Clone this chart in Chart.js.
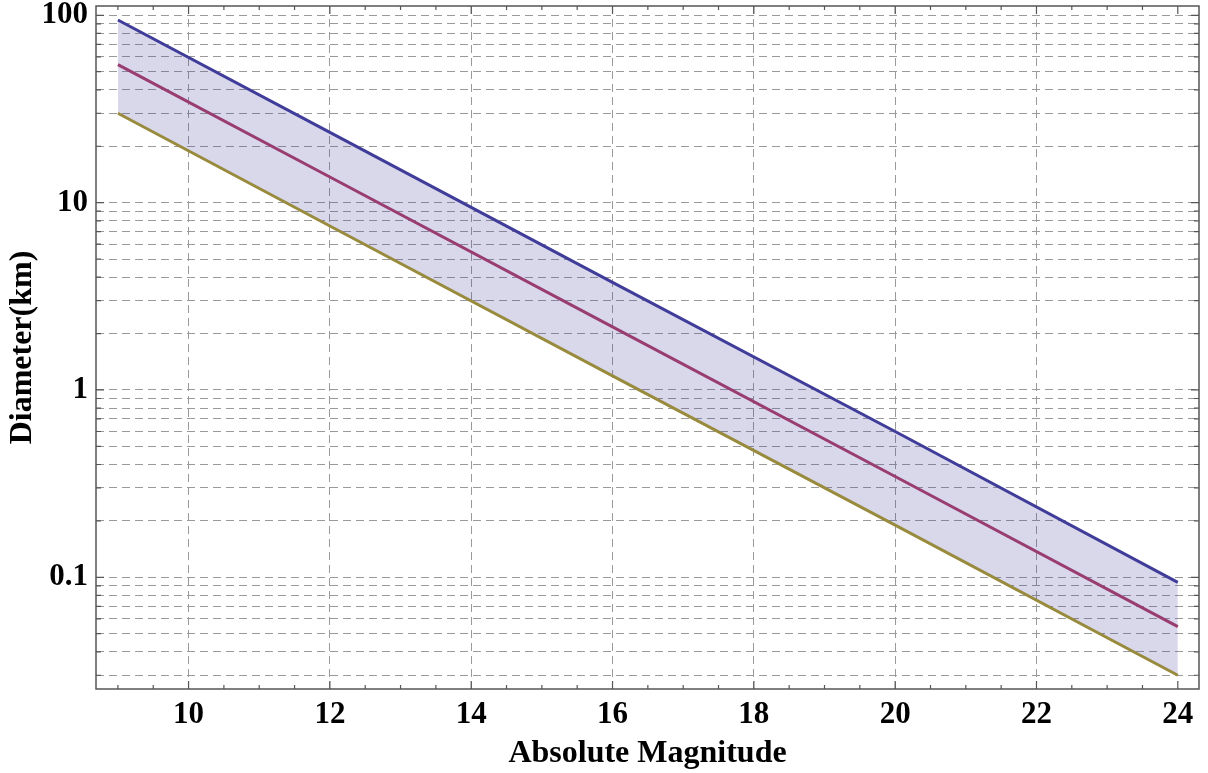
<!DOCTYPE html>
<html lang="en">
<head>
    <meta charset="UTF-8">
    <title>Diameter vs Absolute Magnitude</title>
    <style>
        body {
            margin: 0;
            background: #ffffff;
        }
        #wrap {
            width: 1208px;
            height: 773px;
        }
    </style>
    <script src="https://cdn.jsdelivr.net/npm/chart.js"></script>
</head>
<body>
    <div id="wrap"><canvas id="chart" width="1208" height="773"></canvas></div>

    <script>
        // values (absolute magnitude H, diameter in km)
        const magnitudes = [9, 12, 16, 20, 24];
        const upperDiam = [94.4, 23.7, 3.75, 0.6, 0.094];
        const middleDiam = [54.5, 13.7, 2.17, 0.345, 0.0545];
        const lowerDiam = [30, 7.5, 1.19, 0.19, 0.030];

        const xTicks = [10, 12, 14, 16, 18, 20, 22, 24];
        const yLabels = [0.1, 1, 10, 100];
        const yGrid = [0.03, 0.04, 0.05, 0.06, 0.07, 0.08, 0.09,
                       0.1, 0.2, 0.3, 0.4, 0.5, 0.6, 0.7, 0.8, 0.9,
                       1, 2, 3, 4, 5, 6, 7, 8, 9,
                       10, 20, 30, 40, 50, 60, 70, 80, 90, 100];

        const FONT = '"Liberation Serif", "Times New Roman", serif';

        function pts(ys) {
            return magnitudes.map((h, i) => ({ x: h, y: ys[i] }));
        }

        // frame with inward tick marks on all four sides
        const framePlugin = {
            id: 'frame',
            afterDraw(chart) {
                const { ctx, chartArea: a, scales } = chart;
                const xs = scales.x, ys = scales.y;
                ctx.save();
                ctx.strokeStyle = '#555';
                ctx.lineWidth = 1.5;
                ctx.strokeRect(a.left, a.top, a.right - a.left, a.bottom - a.top);

                ctx.lineWidth = 1.2;
                ctx.beginPath();
                for (let v = 9; v <= 24.01; v += 0.5) {
                    const px = xs.getPixelForValue(v);
                    const len = (Math.abs(v % 2) < 1e-6) ? 8 : 4;
                    ctx.moveTo(px, a.bottom); ctx.lineTo(px, a.bottom - len);
                    ctx.moveTo(px, a.top); ctx.lineTo(px, a.top + len);
                }
                yGrid.forEach(v => {
                    const py = ys.getPixelForValue(v);
                    const len = yLabels.includes(v) ? 8 : 5;
                    ctx.moveTo(a.left, py); ctx.lineTo(a.left + len, py);
                    ctx.moveTo(a.right, py); ctx.lineTo(a.right - len, py);
                });
                ctx.stroke();
                ctx.restore();
            }
        };

        new Chart(document.getElementById('chart'), {
            type: 'line',
            data: {
                datasets: [
                    {
                        data: pts(upperDiam),
                        borderColor: '#3f3d99',
                        backgroundColor: 'rgba(63, 61, 153, 0.2)',
                        borderWidth: 3,
                        pointRadius: 0,
                        fill: 2
                    },
                    {
                        data: pts(middleDiam),
                        borderColor: '#993d71',
                        borderWidth: 3,
                        pointRadius: 0,
                        fill: false
                    },
                    {
                        data: pts(lowerDiam),
                        borderColor: '#998b3d',
                        borderWidth: 3,
                        pointRadius: 0,
                        fill: false
                    }
                ]
            },
            options: {
                responsive: false,
                animation: false,
                layout: { padding: { top: 6, right: 9, left: 0, bottom: 0 } },
                plugins: {
                    legend: { display: false },
                    tooltip: { enabled: false },
                    filler: { drawTime: 'beforeDatasetsDraw' }
                },
                scales: {
                    x: {
                        type: 'linear',
                        min: 8.69,
                        max: 24.3,
                        afterBuildTicks(scale) {
                            scale.ticks = xTicks.map(v => ({ value: v }));
                        },
                        afterFit(scale) {
                            scale.height = 84;
                            scale.paddingLeft = 0;
                            scale.paddingRight = 0;
                        },
                        grid: {
                            drawTicks: false,
                            lineWidth: 1,
                            color: ctx => (ctx.tick && ctx.tick.value === 24) ? 'rgba(0,0,0,0)' : '#9a9a9a'
                        },
                        border: { display: false, dash: [8, 5] },
                        ticks: {
                            autoSkip: false,
                            maxRotation: 0,
                            padding: 7,
                            color: '#000',
                            font: { family: FONT, size: 31, weight: 'bold' }
                        },
                        title: {
                            display: true,
                            text: 'Absolute Magnitude',
                            color: '#000',
                            padding: { top: 0, bottom: 0 },
                            font: { family: FONT, size: 32, weight: 'bold' }
                        }
                    },
                    y: {
                        type: 'logarithmic',
                        min: 0.02533,
                        max: 112.1,
                        afterBuildTicks(scale) {
                            scale.ticks = yGrid.map(v => ({ value: v }));
                        },
                        afterFit(scale) {
                            scale.width = 96;
                            scale.paddingTop = 0;
                            scale.paddingBottom = 0;
                        },
                        grid: {
                            drawTicks: false,
                            lineWidth: 1,
                            color: '#9a9a9a'
                        },
                        border: { display: false, dash: [8, 5] },
                        ticks: {
                            autoSkip: false,
                            padding: 8,
                            color: '#000',
                            font: { family: FONT, size: 31, weight: 'bold' },
                            callback: v => yLabels.includes(v) ? String(v) : ''
                        },
                        title: {
                            display: true,
                            text: 'Diameter(km)',
                            color: '#000',
                            padding: { top: 4, bottom: 0 },
                            font: { family: FONT, size: 32, weight: 'bold' }
                        }
                    }
                }
            },
            plugins: [framePlugin]
        });
    </script>
</body>
</html>
